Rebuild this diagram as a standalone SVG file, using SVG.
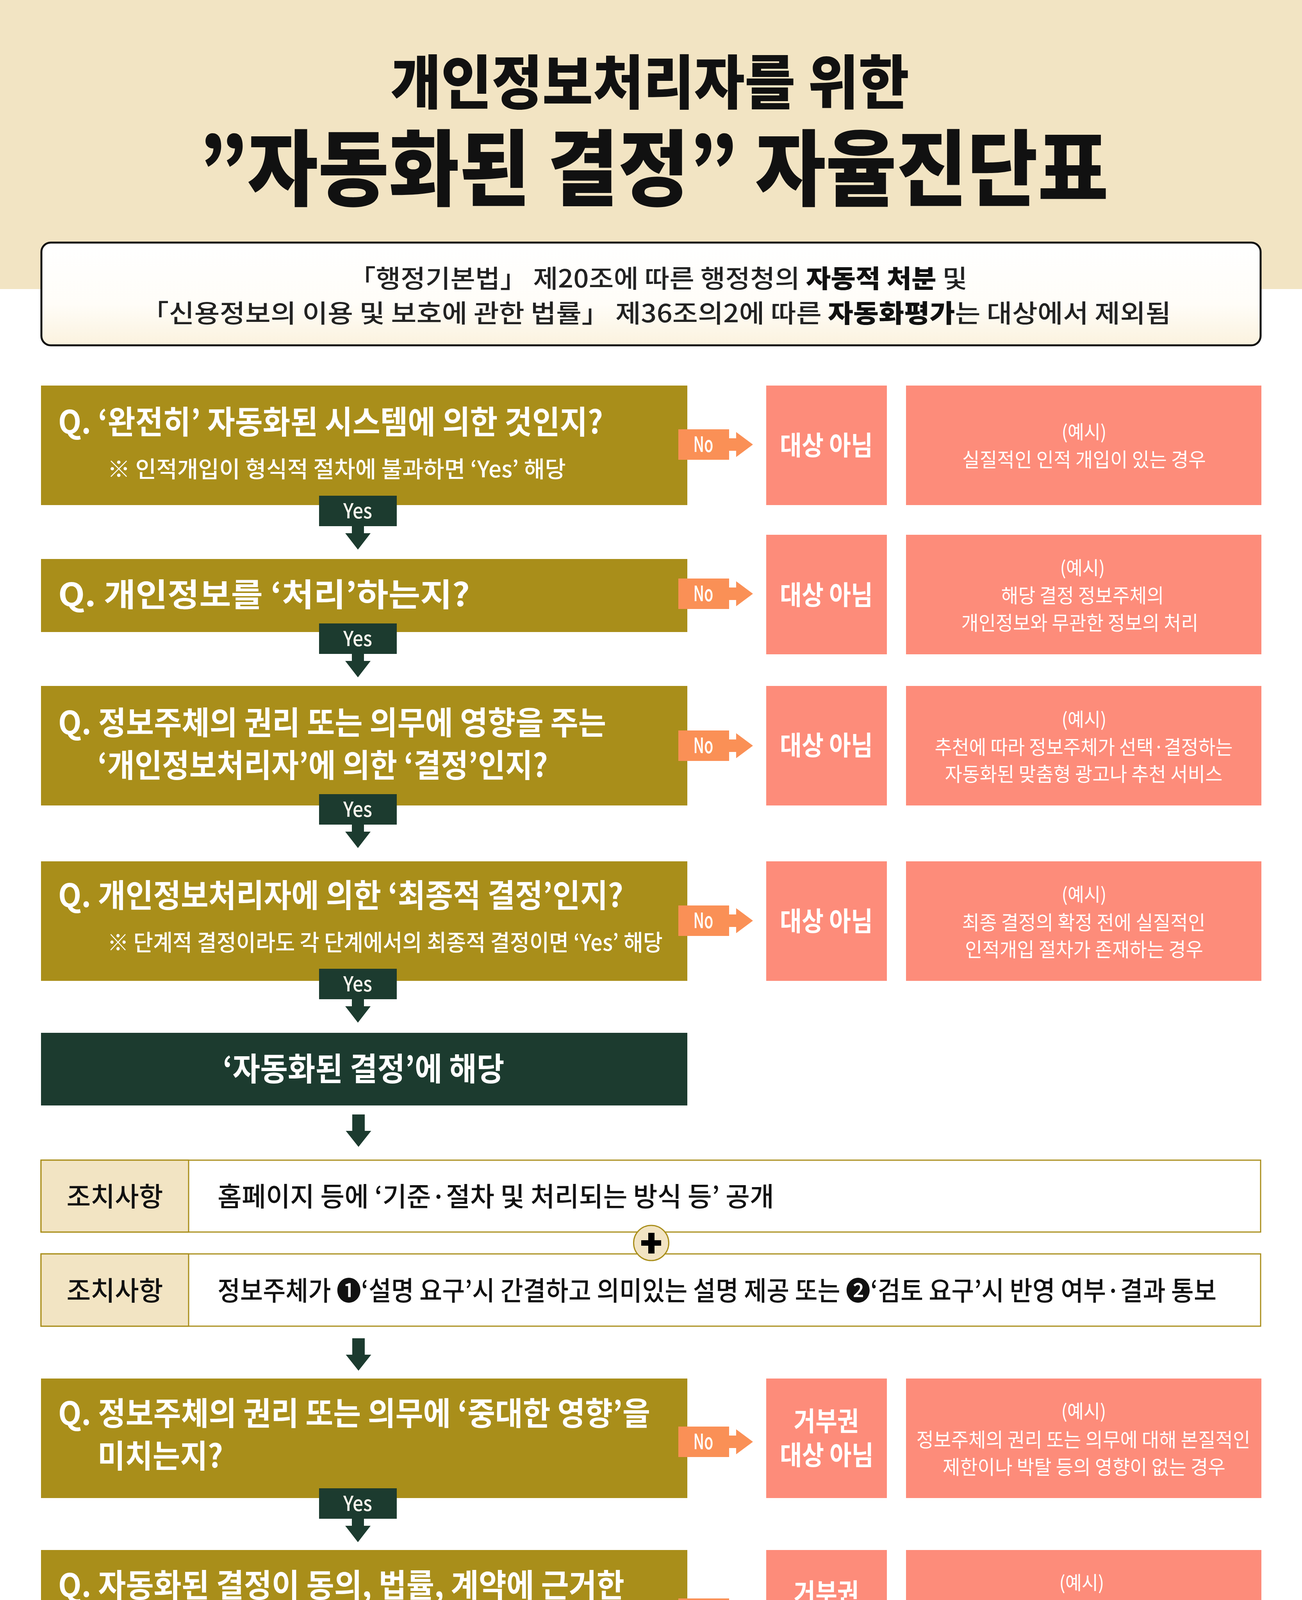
<svg xmlns="http://www.w3.org/2000/svg" xmlns:xlink="http://www.w3.org/1999/xlink" width="3334" height="4716" viewBox="0 0 3334 4716">
<style>
text{font-family:"Noto Sans CJK KR","Noto Sans",sans-serif}
.title{fill:#111;font-weight:900}
.info{fill:#222;font-size:64px;font-weight:500}
.infob{fill:#111;font-weight:900}
.qbox{fill:#a98e1a}
.qt{fill:#fff;font-size:82px;font-weight:700}
.qs{fill:#fff;font-size:58px;font-weight:500}
.res{fill:#fd8c7a}
.rt{fill:#fff;font-size:68px;font-weight:700;text-anchor:middle}
.ex{fill:#fd8c7a}
.et{fill:#fff;font-size:50px;font-weight:400;text-anchor:middle}
.ep{fill:#fff;font-size:48px;font-weight:400;text-anchor:middle}
.green{fill:#1c3b2f}
.gt{fill:#fff;font-size:82px;font-weight:700;text-anchor:middle}
.abox{fill:#fff;stroke:#a98e1a;stroke-width:3}
.alab{fill:#f2e4c3;stroke:#a98e1a;stroke-width:3}
.at{fill:#111;font-size:68px;font-weight:500}
.al{fill:#111;font-size:68px;font-weight:500;text-anchor:middle}
.yes{fill:#fbf7ee;font-size:53px;font-weight:500;text-anchor:middle}
.no{fill:#fff;font-size:54px;font-weight:500;text-anchor:middle}
.garrow{fill:#1c3b2f}
.oarrow{fill:#fa9056}
</style>
<defs>
<linearGradient id="infoGrad" x1="0" y1="0" x2="0" y2="1">
<stop offset="0" stop-color="#ffffff"/>
<stop offset="0.6" stop-color="#fffdf8"/>
<stop offset="1" stop-color="#fbf2de"/>
</linearGradient>
<path id="yesShape" d="M0,0H199V78H115V96H132L99.5,138L67,96H84V78H0Z"/>
<path id="noShape" d="M0,-39H130V-16H148V-32L191,0L148,32V16H130V39H0Z"/>
<path id="downArrow" d="M-16,0H16V42H32.5L0,83L-32.5,42H-16Z"/>
</defs>

<rect x="0" y="0" width="3334" height="4716" fill="#fff"/>
<rect x="0" y="0" width="3334" height="740" fill="#f2e4c3"/>

<g id="title">
<text class="title" x="1664" y="266" font-size="150" text-anchor="middle" textLength="1328" lengthAdjust="spacingAndGlyphs">개인정보처리자를 위한</text>
<text class="title" x="1674" y="510" font-size="212" text-anchor="middle" textLength="2329" lengthAdjust="spacingAndGlyphs">”자동화된 결정” 자율진단표</text>
</g>

<g id="info">
<rect x="106" y="621" width="3122" height="263" rx="24" fill="url(#infoGrad)" stroke="#111" stroke-width="5"/>
<text class="info" x="1685" y="736" text-anchor="middle" textLength="1584" lengthAdjust="spacingAndGlyphs">「행정기본법」 제20조에 따른 행정청의 <tspan class="infob">자동적 처분</tspan> 및</text>
<text class="info" x="1680" y="825" text-anchor="middle" textLength="2637" lengthAdjust="spacingAndGlyphs">「신용정보의 이용 및 보호에 관한 법률」 제36조의2에 따른 <tspan class="infob">자동화평가</tspan>는 대상에서 제외됨</text>
</g>

<g id="q1">
<rect class="qbox" x="105" y="987" width="1655" height="306"/>
<text class="qt" x="149" y="1110" textLength="1395" lengthAdjust="spacingAndGlyphs">Q. ‘완전히’ 자동화된 시스템에 의한 것인지?</text>
<text class="qs" x="275" y="1222" textLength="1174" lengthAdjust="spacingAndGlyphs">※ 인적개입이 형식적 절차에 불과하면 ‘Yes’ 해당</text>
</g>
<g id="r1">
<rect class="res" x="1962" y="987" width="309" height="306"/>
<text class="rt" x="2116" y="1165" textLength="238" lengthAdjust="spacingAndGlyphs">대상 아님</text>
</g>
<g id="e1">
<rect class="ex" x="2320" y="987" width="910" height="306"/>
<text class="ep" x="2776" y="1123" textLength="115" lengthAdjust="spacingAndGlyphs">(예시)</text>
<text class="et" x="2776" y="1195" textLength="624" lengthAdjust="spacingAndGlyphs">실질적인 인적 개입이 있는 경우</text>
</g>

<g id="q2">
<rect class="qbox" x="105" y="1431" width="1655" height="187"/>
<text class="qt" x="149" y="1552" textLength="1054" lengthAdjust="spacingAndGlyphs">Q. 개인정보를 ‘처리’하는지?</text>
</g>
<g id="r2">
<rect class="res" x="1962" y="1369" width="309" height="306"/>
<text class="rt" x="2116" y="1548" textLength="238" lengthAdjust="spacingAndGlyphs">대상 아님</text>
</g>
<g id="e2">
<rect class="ex" x="2320" y="1369" width="910" height="306"/>
<text class="ep" x="2772" y="1471" textLength="115" lengthAdjust="spacingAndGlyphs">(예시)</text>
<text class="et" x="2772" y="1543" textLength="417" lengthAdjust="spacingAndGlyphs">해당 결정 정보주체의</text>
<text class="et" x="2765" y="1613" textLength="607" lengthAdjust="spacingAndGlyphs">개인정보와 무관한 정보의 처리</text>
</g>

<g id="q3">
<rect class="qbox" x="105" y="1756" width="1655" height="306"/>
<text class="qt" x="149" y="1880" textLength="1403" lengthAdjust="spacingAndGlyphs">Q. 정보주체의 권리 또는 의무에 영향을 주는</text>
<text class="qt" x="250" y="1989" textLength="1153" lengthAdjust="spacingAndGlyphs">‘개인정보처리자’에 의한 ‘결정’인지?</text>
</g>
<g id="r3">
<rect class="res" x="1962" y="1756" width="309" height="306"/>
<text class="rt" x="2116" y="1933" textLength="238" lengthAdjust="spacingAndGlyphs">대상 아님</text>
</g>
<g id="e3">
<rect class="ex" x="2320" y="1756" width="910" height="306"/>
<text class="ep" x="2776" y="1859" textLength="115" lengthAdjust="spacingAndGlyphs">(예시)</text>
<text class="et" x="2775" y="1931" textLength="763" lengthAdjust="spacingAndGlyphs">추천에 따라 정보주체가 선택·결정하는</text>
<text class="et" x="2775" y="2000" textLength="711" lengthAdjust="spacingAndGlyphs">자동화된 맞춤형 광고나 추천 서비스</text>
</g>

<g id="q4">
<rect class="qbox" x="105" y="2205" width="1655" height="306"/>
<text class="qt" x="149" y="2322" textLength="1447" lengthAdjust="spacingAndGlyphs">Q. 개인정보처리자에 의한 ‘최종적 결정’인지?</text>
<text class="qs" x="275" y="2434" textLength="1422" lengthAdjust="spacingAndGlyphs">※ 단계적 결정이라도 각 단계에서의 최종적 결정이면 ‘Yes’ 해당</text>
</g>
<g id="r4">
<rect class="res" x="1962" y="2205" width="309" height="306"/>
<text class="rt" x="2116" y="2383" textLength="238" lengthAdjust="spacingAndGlyphs">대상 아님</text>
</g>
<g id="e4">
<rect class="ex" x="2320" y="2205" width="910" height="306"/>
<text class="ep" x="2776" y="2307" textLength="115" lengthAdjust="spacingAndGlyphs">(예시)</text>
<text class="et" x="2775" y="2380" textLength="623" lengthAdjust="spacingAndGlyphs">최종 결정의 확정 전에 실질적인</text>
<text class="et" x="2776" y="2449" textLength="610" lengthAdjust="spacingAndGlyphs">인적개입 절차가 존재하는 경우</text>
</g>

<g id="decision">
<rect class="green" x="105" y="2644" width="1655" height="186"/>
<text class="gt" x="931" y="2766" textLength="721" lengthAdjust="spacingAndGlyphs">‘자동화된 결정’에 해당</text>
</g>

<g id="action1">
<rect class="abox" x="105" y="2970" width="3123" height="184"/>
<rect class="alab" x="105" y="2970" width="378" height="184"/>
<text class="al" x="294" y="3088" textLength="247" lengthAdjust="spacingAndGlyphs">조치사항</text>
<text class="at" x="557" y="3088" textLength="1425" lengthAdjust="spacingAndGlyphs">홈페이지 등에 ‘기준·절차 및 처리되는 방식 등’ 공개</text>
</g>
<g id="action2">
<rect class="abox" x="105" y="3210" width="3123" height="185"/>
<rect class="alab" x="105" y="3210" width="378" height="185"/>
<text class="al" x="294" y="3329" textLength="247" lengthAdjust="spacingAndGlyphs">조치사항</text>
<text class="at" x="557" y="3329" textLength="2558" lengthAdjust="spacingAndGlyphs">정보주체가 ❶‘설명 요구’시 간결하고 의미있는 설명 제공 또는 ❷‘검토 요구’시 반영 여부·결과 통보</text>
</g>
<g id="plus">
<circle cx="1667.5" cy="3182" r="45" fill="#f2e4c3" stroke="#a98e1a" stroke-width="3"/>
<path d="M1660,3156H1676V3175H1693V3189H1676V3209H1660V3189H1642V3175H1660Z" fill="#000"/>
</g>

<g id="q5">
<rect class="qbox" x="105" y="3529" width="1655" height="306"/>
<text class="qt" x="149" y="3648" textLength="1516" lengthAdjust="spacingAndGlyphs">Q. 정보주체의 권리 또는 의무에 ‘중대한 영향’을</text>
<text class="qt" x="250" y="3757" textLength="321" lengthAdjust="spacingAndGlyphs">미치는지?</text>
</g>
<g id="r5">
<rect class="res" x="1962" y="3529" width="309" height="306"/>
<text class="rt" x="2116" y="3663" textLength="167" lengthAdjust="spacingAndGlyphs">거부권</text>
<text class="rt" x="2117" y="3750" textLength="240" lengthAdjust="spacingAndGlyphs">대상 아님</text>
</g>
<g id="e5">
<rect class="ex" x="2320" y="3529" width="910" height="306"/>
<text class="ep" x="2775" y="3630" textLength="115" lengthAdjust="spacingAndGlyphs">(예시)</text>
<text class="et" x="2774" y="3704" textLength="855" lengthAdjust="spacingAndGlyphs">정보주체의 권리 또는 의무에 대해 본질적인</text>
<text class="et" x="2776" y="3774" textLength="724" lengthAdjust="spacingAndGlyphs">제한이나 박탈 등의 영향이 없는 경우</text>
</g>

<g id="q6">
<rect class="qbox" x="105" y="3968" width="1655" height="306"/>
<text class="qt" x="149" y="4088" textLength="1450" lengthAdjust="spacingAndGlyphs">Q. 자동화된 결정이 동의, 법률, 계약에 근거한</text>
<text class="qt" x="250" y="4197" textLength="482" lengthAdjust="spacingAndGlyphs">경우가 아닌지?</text>
</g>
<g id="r6">
<rect class="res" x="1962" y="3968" width="309" height="306"/>
<text class="rt" x="2116" y="4103" textLength="167" lengthAdjust="spacingAndGlyphs">거부권</text>
<text class="rt" x="2117" y="4188" textLength="240" lengthAdjust="spacingAndGlyphs">대상 아님</text>
</g>
<g id="e6">
<rect class="ex" x="2320" y="3968" width="910" height="306"/>
<text class="ep" x="2770" y="4069" textLength="115" lengthAdjust="spacingAndGlyphs">(예시)</text>
<text class="et" x="2773" y="4143" textLength="871" lengthAdjust="spacingAndGlyphs">자동화된 결정에 대해 동의나 계약 등을 통해</text>
<text class="et" x="2773" y="4212" textLength="855" lengthAdjust="spacingAndGlyphs">미리 알렸거나 법률에 명확히 규정이 있는 경우</text>
</g>

<g id="action3">
<rect class="abox" x="105" y="4387" width="3123" height="185"/>
<rect class="alab" x="105" y="4387" width="377" height="185"/>
<text class="al" x="293" y="4508" textLength="243" lengthAdjust="spacingAndGlyphs">조치사항</text>
<text class="at" x="557" y="4508" textLength="2579" lengthAdjust="spacingAndGlyphs">정보주체가 ‘거부’시 ❶자동화된 결정을 적용하지 않거나 ❷인적 개입에 의한 재처리 후 결과 통보</text>
</g>

<g id="connectors">
<use xlink:href="#yesShape" class="garrow" x="817" y="1269"/>
<text class="yes" x="916" y="1327" textLength="74" lengthAdjust="spacingAndGlyphs">Yes</text>
<use xlink:href="#yesShape" class="garrow" x="817" y="1596"/>
<text class="yes" x="916" y="1654" textLength="74" lengthAdjust="spacingAndGlyphs">Yes</text>
<use xlink:href="#yesShape" class="garrow" x="817" y="2033"/>
<text class="yes" x="916" y="2091" textLength="74" lengthAdjust="spacingAndGlyphs">Yes</text>
<use xlink:href="#yesShape" class="garrow" x="817" y="2480"/>
<text class="yes" x="916" y="2538" textLength="74" lengthAdjust="spacingAndGlyphs">Yes</text>
<use xlink:href="#yesShape" class="garrow" x="817" y="3810"/>
<text class="yes" x="916" y="3868" textLength="74" lengthAdjust="spacingAndGlyphs">Yes</text>
<use xlink:href="#yesShape" class="garrow" x="817" y="4238"/>
<text class="yes" x="916" y="4296" textLength="74" lengthAdjust="spacingAndGlyphs">Yes</text>
<use xlink:href="#downArrow" class="garrow" x="918" y="2853"/>
<use xlink:href="#downArrow" class="garrow" x="918" y="3426"/>

<use xlink:href="#noShape" class="oarrow" x="1737" y="1138"/>
<text class="no" x="1801" y="1157" textLength="51" lengthAdjust="spacingAndGlyphs">No</text>
<use xlink:href="#noShape" class="oarrow" x="1737" y="1520"/>
<text class="no" x="1801" y="1539" textLength="51" lengthAdjust="spacingAndGlyphs">No</text>
<use xlink:href="#noShape" class="oarrow" x="1737" y="1909"/>
<text class="no" x="1801" y="1928" textLength="51" lengthAdjust="spacingAndGlyphs">No</text>
<use xlink:href="#noShape" class="oarrow" x="1737" y="2357"/>
<text class="no" x="1801" y="2376" textLength="51" lengthAdjust="spacingAndGlyphs">No</text>
<use xlink:href="#noShape" class="oarrow" x="1737" y="3691"/>
<text class="no" x="1801" y="3710" textLength="51" lengthAdjust="spacingAndGlyphs">No</text>
<use xlink:href="#noShape" class="oarrow" x="1737" y="4131"/>
<text class="no" x="1801" y="4150" textLength="51" lengthAdjust="spacingAndGlyphs">No</text>
</g>
</svg>
